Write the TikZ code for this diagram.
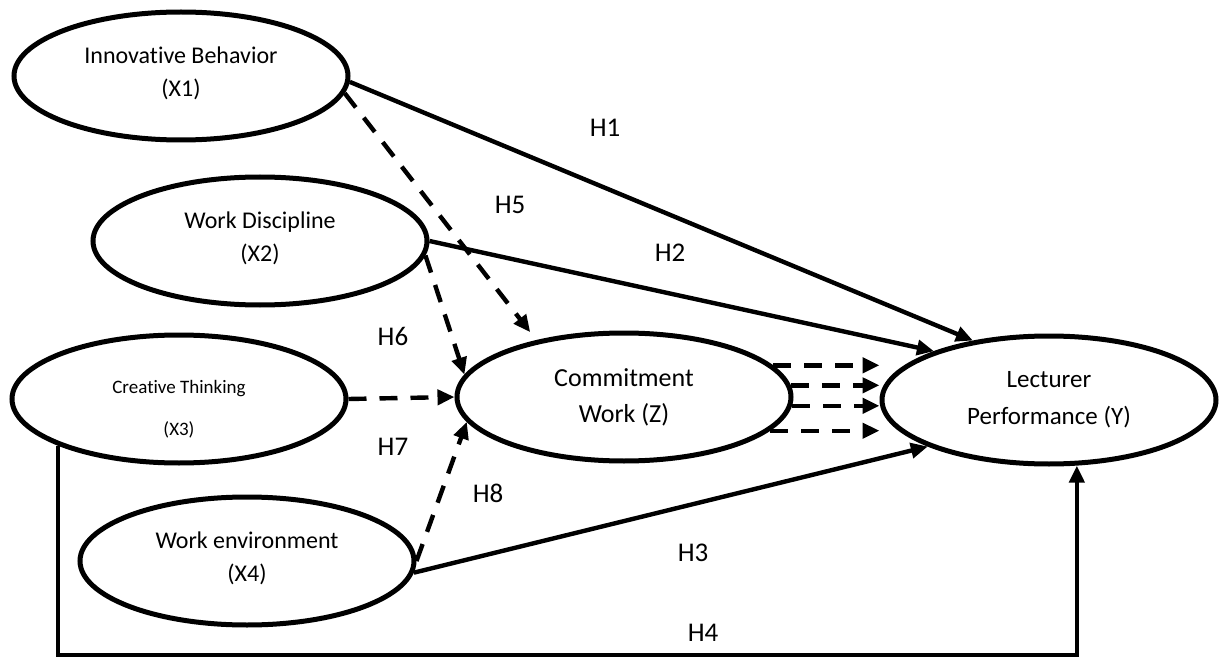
\documentclass[tikz,border=0pt]{standalone}
\usepackage{fontspec}
\setmainfont{Carlito}[Ligatures=NoCommon]
\usetikzlibrary{shapes.geometric,arrows.meta}
\tikzset{ % Setup for the model
latent/.style={ellipse,draw,line width=2.5pt,minimum width=167pt,minimum height=64pt,inner sep=0pt,align=center,font=\fontsize{12}{16.5}\selectfont},
direct/.style={line width=2.2pt,-{Triangle[length=8.5pt,width=7.5pt]}},
indirect/.style={direct,dash pattern=on 9pt off 6.5pt},
hlabel/.style={font=\fontsize{13.5}{16}\selectfont},
}

\begin{document}
\begin{tikzpicture}[x=0.5pt,y=-0.5pt]
            \useasboundingbox (0,0) rectangle (1222,658);
            \node [latent] (x1) at (181,76) {Innovative Behavior\\(X1)\rule[-4pt]{0pt}{0pt}};
            \node [latent] (x2) at (260,241) {Work Discipline\\(X2)\rule[-4pt]{0pt}{0pt}};
            \node [latent,font=\fontsize{9.5}{21}\selectfont] (x3) at (179,399) {\rule{0pt}{17pt}Creative Thinking\\(X3)};
            \node [latent] (x4) at (247,561) {Work environment\\(X4)\rule[-4pt]{0pt}{0pt}};
            \node [latent,font=\fontsize{13}{18}\selectfont] (z) at (624,397) {Commitment\\Work (Z)};
            \node [latent,font=\fontsize{12.5}{18.5}\selectfont] (y) at (1049,400) {Lecturer\\Performance (Y)};
            \coordinate (base) at (0,655);
            % direct paths
            \draw [direct] (x1.-2) -- (y.142);
            \draw [direct] (x2.east) -- (y.157);
            \draw [direct] (x4.-4) -- (y.201);
            \draw [direct] (x3.201) -- (x3.201 |- base) -| (y.293);
            % paths through Z
            \draw [indirect,shorten >=5pt] (x1.-6) -- (z.147);
            \draw [indirect] (x2.-5) -- (z.172);
            \draw [indirect] (x3.east) -- (z.west);
            \draw [indirect] (x4.east) -- (z.189);
            \foreach \a in {12,4,-3,-13}
                \draw [indirect] (z.\a) -- (z.\a -| y.west);
            \node [hlabel] (h1) at (605,128) {H1};
            \node [hlabel] (h2) at (670,253) {H2};
            \node [hlabel] (h3) at (693,553) {H3};
            \node [hlabel] (h4) at (703,633) {H4};
            \node [hlabel] (h5) at (510,205) {H5};
            \node [hlabel] (h6) at (393,336) {H6};
            \node [hlabel] (h7) at (393,447) {H7};
            \node [hlabel] (h8) at (488,493) {H8};
        \end{tikzpicture}
\end{document}
